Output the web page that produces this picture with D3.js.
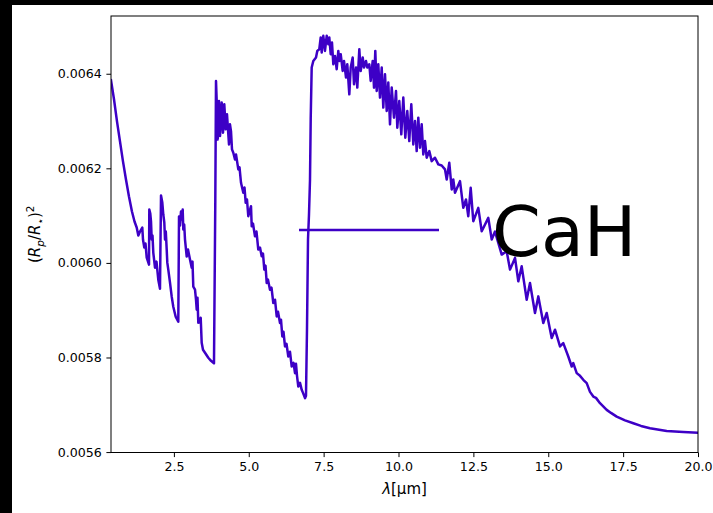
<!DOCTYPE html>
<html>
<head>
<meta charset="utf-8">
<script src="https://cdn.jsdelivr.net/npm/d3@7"></script>
<style>
  html, body { margin: 0; padding: 0; background: #fff; }
  svg { display: block; }
  text { font-family: "DejaVu Sans", sans-serif; }
</style>
</head>
<body>
<script>
// Transmission spectrum of a CaH-bearing atmosphere: transit depth vs wavelength.
const wavelength = [
  0.40, 0.50, 0.60, 0.70, 0.80, 0.90, 1.00, 1.10, 1.185, 1.258, 1.312, 1.368, 1.445, 1.468, 1.512, 1.552,
  1.592, 1.669, 1.679, 1.712, 1.736, 1.759, 1.786, 1.812, 1.869, 1.919, 1.979, 2.036, 2.070, 2.113, 2.146,
  2.180, 2.203, 2.230, 2.260, 2.280, 2.313, 2.370, 2.427, 2.480, 2.560, 2.647, 2.671, 2.704, 2.737, 2.771,
  2.794, 2.814, 2.844, 2.871, 2.928, 2.971, 3.038, 3.095, 3.121, 3.148, 3.205, 3.238, 3.262, 3.288, 3.315,
  3.372, 3.395, 3.428, 3.472, 3.539, 3.649, 3.739, 3.839, 3.883, 3.906, 3.939, 3.963, 4.006, 4.040, 4.073,
  4.096, 4.140, 4.183, 4.230, 4.273, 4.340, 4.373, 4.407, 4.440, 4.484, 4.540, 4.574, 4.651, 4.691, 4.741,
  4.818, 4.858, 4.898, 4.941, 4.984, 5.025, 5.075, 5.098, 5.141, 5.208, 5.258, 5.318, 5.375, 5.432, 5.475,
  5.519, 5.559, 5.599, 5.642, 5.709, 5.759, 5.819, 5.876, 5.933, 5.976, 6.043, 6.076, 6.120, 6.160, 6.210,
  6.260, 6.320, 6.377, 6.434, 6.494, 6.544, 6.577, 6.611, 6.654, 6.711, 6.768, 6.811, 6.878, 6.911, 6.944,
  6.978, 7.011, 7.045, 7.068, 7.101, 7.155, 7.245, 7.288, 7.355, 7.402, 7.435, 7.489, 7.545, 7.602, 7.656,
  7.689, 7.736, 7.779, 7.823, 7.879, 7.936, 7.990, 8.023, 8.070, 8.136, 8.180, 8.247, 8.290, 8.357, 8.404,
  8.470, 8.514, 8.581, 8.624, 8.691, 8.737, 8.804, 8.848, 8.914, 8.958, 9.025, 9.071, 9.138, 9.182, 9.225,
  9.272, 9.325, 9.382, 9.439, 9.492, 9.549, 9.606, 9.659, 9.716, 9.773, 9.849, 9.916, 9.960, 10.026, 10.093,
  10.160, 10.227, 10.293, 10.360, 10.427, 10.494, 10.551, 10.607, 10.661, 10.718, 10.774, 10.828, 10.884,
  10.941, 11.028, 11.108, 11.218, 11.329, 11.442, 11.552, 11.609, 11.696, 11.776, 11.829, 11.886, 12.053,
  12.163, 12.253, 12.330, 12.410, 12.497, 12.664, 12.778, 12.998, 13.112, 13.222, 13.332, 13.446, 13.612,
  13.723, 13.890, 14.000, 14.113, 14.280, 14.390, 14.557, 14.668, 14.834, 14.948, 15.115, 15.225, 15.392,
  15.502, 15.669, 15.783, 15.836, 15.950, 16.060, 16.170, 16.284, 16.394, 16.504, 16.594, 16.728, 16.951,
  17.095, 17.285, 17.563, 17.840, 18.097, 18.397, 18.955, 19.509, 20.000
];

const transitDepth = [
  0.0063862, 0.0063460, 0.0062994, 0.0062570, 0.0062146, 0.0061765, 0.0061405, 0.0061087, 0.0060875, 0.0060748,
  0.0060578, 0.0060663, 0.0060748, 0.0060494, 0.0060324, 0.0060409, 0.0060112, 0.0059964, 0.0061129, 0.0061044,
  0.0060875, 0.0060494, 0.0060578, 0.0060218, 0.0059900, 0.0060027, 0.0059646, 0.0059455, 0.0061426, 0.0061277,
  0.0061023, 0.0060854, 0.0060494, 0.0060663, 0.0060282, 0.0060006, 0.0059858, 0.0059583, 0.0059286, 0.0059074,
  0.0058862, 0.0058756, 0.0060981, 0.0060790, 0.0061087, 0.0060917, 0.0061129, 0.0060705, 0.0060811, 0.0060494,
  0.0060133, 0.0060282, 0.0060070, 0.0059900, 0.0060027, 0.0059498, 0.0059434, 0.0059222, 0.0059011, 0.0059265,
  0.0058735, 0.0058756, 0.0058841, 0.0058311, 0.0058163, 0.0058100, 0.0057994, 0.0057930, 0.0057877, 0.0061341,
  0.0063847, 0.0063248, 0.0062612, 0.0063424, 0.0062682, 0.0063036, 0.0063390, 0.0062754, 0.0063354, 0.0062824,
  0.0063142, 0.0062506, 0.0062930, 0.0062782, 0.0062400, 0.0062330, 0.0062188, 0.0062294, 0.0061977, 0.0062019,
  0.0061695, 0.0061483, 0.0061595, 0.0061271, 0.0061341, 0.0060987, 0.0061087, 0.0061199, 0.0060775, 0.0060833,
  0.0060563, 0.0060663, 0.0060282, 0.0060324, 0.0060140, 0.0060197, 0.0059858, 0.0059943, 0.0059576, 0.0059646,
  0.0059434, 0.0059477, 0.0059152, 0.0059222, 0.0058869, 0.0058968, 0.0058729, 0.0058799, 0.0058445, 0.0058544,
  0.0058233, 0.0058290, 0.0058021, 0.0058121, 0.0057809, 0.0057888, 0.0057669, 0.0057866, 0.0057612, 0.0057386,
  0.0057464, 0.0057316, 0.0057252, 0.0057140, 0.0057189, 0.0058587, 0.0060494, 0.0061023, 0.0061765, 0.0063036,
  0.0064131, 0.0064271, 0.0064343, 0.0064483, 0.0064519, 0.0064767, 0.0064449, 0.0064801, 0.0064483, 0.0064801,
  0.0064625, 0.0064767, 0.0064413, 0.0064661, 0.0064201, 0.0064377, 0.0064095, 0.0064483, 0.0064271, 0.0064413,
  0.0064059, 0.0064271, 0.0063919, 0.0064201, 0.0063565, 0.0064131, 0.0064343, 0.0063777, 0.0064131, 0.0063707,
  0.0064519, 0.0064059, 0.0064343, 0.0064131, 0.0064271, 0.0064131, 0.0064201, 0.0063847, 0.0064271, 0.0063707,
  0.0064483, 0.0063635, 0.0064201, 0.0063496, 0.0064131, 0.0063284, 0.0063989, 0.0063212, 0.0063813, 0.0062930,
  0.0063707, 0.0063072, 0.0063635, 0.0062860, 0.0063424, 0.0062718, 0.0063496, 0.0062648, 0.0063212, 0.0062576,
  0.0063354, 0.0062506, 0.0063000, 0.0062364, 0.0063072, 0.0062436, 0.0062930, 0.0062294, 0.0062576, 0.0062224,
  0.0062364, 0.0062152, 0.0062224, 0.0062083, 0.0062061, 0.0061977, 0.0061765, 0.0062118, 0.0061553, 0.0061765,
  0.0061483, 0.0061729, 0.0061165, 0.0061341, 0.0060987, 0.0061589, 0.0060881, 0.0061165, 0.0060669, 0.0060953,
  0.0060494, 0.0060663, 0.0060424, 0.0060176, 0.0060246, 0.0059858, 0.0060106, 0.0059610, 0.0059928, 0.0059222,
  0.0059576, 0.0058941, 0.0059292, 0.0058729, 0.0058941, 0.0058411, 0.0058587, 0.0058233, 0.0058305, 0.0058021,
  0.0057809, 0.0057881, 0.0057669, 0.0057612, 0.0057528, 0.0057458, 0.0057273, 0.0057174, 0.0057146, 0.0057034,
  0.0056892, 0.0056828, 0.0056750, 0.0056669, 0.0056610, 0.0056553, 0.0056504, 0.0056447, 0.0056426, 0.0056411
];

const xTicks = [2.5, 5.0, 7.5, 10.0, 12.5, 15.0, 17.5, 20.0];
const yTicks = [0.0056, 0.0058, 0.0060, 0.0062, 0.0064];
const xLimits = [0.4, 20.0];
const yLimits = [0.0055991, 0.0065221];
const seriesName = "CaH";

const width = 713, height = 513;
const plot = { left: 111, top: 16, right: 698, bottom: 452.5 };
const lineColor = "#3d00c6";

const svg = d3.select("body").append("svg")
  .attr("width", width).attr("height", height);

svg.append("rect").attr("width", width).attr("height", height).attr("fill", "#fff");
// dark framing strips along the top and left edges
svg.append("rect").attr("x", 0).attr("y", 0).attr("width", width).attr("height", 5).attr("fill", "#000");
svg.append("rect").attr("x", 0).attr("y", 0).attr("width", 12).attr("height", height).attr("fill", "#000");

const x = d3.scaleLinear().domain(xLimits).range([plot.left, plot.right]);
const y = d3.scaleLinear().domain(yLimits).range([plot.bottom, plot.top]);

const points = wavelength.map((w, i) => [w, transitDepth[i]]);

svg.append("defs").append("clipPath").attr("id", "plotClip")
  .append("rect")
  .attr("x", plot.left).attr("y", plot.top)
  .attr("width", plot.right - plot.left).attr("height", plot.bottom - plot.top);

svg.append("path")
  .datum(points)
  .attr("clip-path", "url(#plotClip)")
  .attr("fill", "none")
  .attr("stroke", lineColor)
  .attr("stroke-width", 2.5)
  .attr("stroke-linejoin", "round")
  .attr("stroke-linecap", "square")
  .attr("d", d3.line().x(d => x(d[0])).y(d => y(d[1])));

// axes
const tickFont = "12.6px";
const labelFont = "15px";
const xAxis = svg.append("g")
  .attr("transform", `translate(0,${plot.bottom})`)
  .call(d3.axisBottom(x).tickValues(xTicks).tickFormat(d3.format(".1f"))
    .tickSize(4.6).tickPadding(4.6));
const yAxis = svg.append("g")
  .attr("transform", `translate(${plot.left},0)`)
  .call(d3.axisLeft(y).tickValues(yTicks).tickFormat(d3.format(".4f"))
    .tickSize(4.6).tickPadding(4.6));

[xAxis, yAxis].forEach(g => {
  g.select(".domain").remove();
  g.selectAll(".tick line").attr("stroke", "#000").attr("stroke-width", 1);
  g.selectAll(".tick text")
    .attr("fill", "#000")
    .style("font-family", "'DejaVu Sans', sans-serif")
    .style("font-size", tickFont);
});

// frame
svg.append("rect")
  .attr("x", plot.left).attr("y", plot.top)
  .attr("width", plot.right - plot.left).attr("height", plot.bottom - plot.top)
  .attr("fill", "none").attr("stroke", "#000").attr("stroke-width", 1);

// x-axis label: λ[μm]
const xLabel = svg.append("text")
  .attr("x", (plot.left + plot.right) / 2).attr("y", 494)
  .attr("text-anchor", "middle")
  .style("font-size", labelFont).attr("fill", "#000");
xLabel.append("tspan").style("font-style", "italic").text("λ");
xLabel.append("tspan").text("[μm]");

// y-axis label: (R_p/R_⋆)^2
const yLabel = svg.append("text")
  .attr("transform", `translate(40,${(plot.top + plot.bottom) / 2}) rotate(-90)`)
  .attr("text-anchor", "middle")
  .style("font-size", labelFont).attr("fill", "#000");
yLabel.append("tspan").text("(");
yLabel.append("tspan").style("font-style", "italic").text("R");
yLabel.append("tspan").style("font-style", "italic").style("font-size", "10.5px").attr("dy", 3.5).text("p");
yLabel.append("tspan").attr("dy", -3.5).text("/");
yLabel.append("tspan").style("font-style", "italic").text("R");
yLabel.append("tspan").style("font-size", "10.5px").attr("dy", 3.5).text("\u22C6");
yLabel.append("tspan").attr("dy", -3.5).text(")");
yLabel.append("tspan").style("font-size", "10.5px").attr("dy", -6).text("2");

// legend
const legend = svg.append("g");
legend.append("line")
  .attr("x1", 299).attr("x2", 439).attr("y1", 230).attr("y2", 230)
  .attr("stroke", lineColor).attr("stroke-width", 2.5);
legend.append("text")
  .attr("x", 492).attr("y", 256)
  .style("font-size", "70px").attr("fill", "#000")
  .text(seriesName);
</script>
</body>
</html>
